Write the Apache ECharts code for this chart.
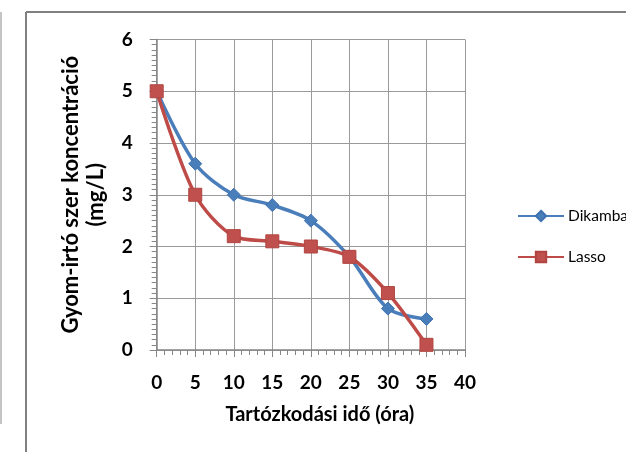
<!DOCTYPE html>
<html>
<head>
<meta charset="utf-8">
<script src="https://cdn.jsdelivr.net/npm/echarts@6/dist/echarts.min.js"></script>
<style>html,body{margin:0;padding:0;background:#fff}#c{width:626px;height:452px}</style>
</head>
<body>
<div id="c"></div>
<script>
var xValues = [0, 5, 10, 15, 20, 25, 30, 35];
var dikamba = [5.0, 3.6, 3.0, 2.8, 2.5, 1.8, 0.8, 0.6];
var lasso = [5.0, 3.0, 2.2, 2.1, 2.0, 1.8, 1.1, 0.1];
var seriesNames = ['Dikamba', 'Lasso'];
var xTitle = 'Tartózkodási idő (óra)';
var yTitle = 'Gyom-irtó szer koncentráció\n(mg/L)';

function pairs(xs, ys) { return xs.map(function (x, i) { return [x, ys[i]]; }); }

var FONT = 'Lato';
var chart = echarts.init(document.getElementById('c'), null, {renderer: 'canvas'});
chart.setOption({
  animation: false,
  backgroundColor: '#fff',
  grid: {left: 156.7, right: 161, top: 39.5, bottom: 102, containLabel: false},
  graphic: [
    {type: 'line', shape: {x1: 26, y1: 12, x2: 26, y2: 452}, style: {stroke: '#808080', lineWidth: 2}},
    {type: 'line', shape: {x1: 26, y1: 12, x2: 626, y2: 12}, style: {stroke: '#808080', lineWidth: 2}},
    {type: 'line', shape: {x1: 1, y1: 12, x2: 1, y2: 424}, style: {stroke: '#b0b0b0', lineWidth: 1.5}}
  ],
  legend: {
    orient: 'vertical', left: 512, top: 203,
    itemWidth: 46, itemHeight: 13, itemGap: 25,
    textStyle: {fontFamily: FONT, fontSize: 15.5, color: '#000', padding: [0, 0, 0, -1]},
    data: seriesNames
  },
  xAxis: {
    type: 'value', min: 0, max: 40, interval: 5,
    name: xTitle, nameLocation: 'middle', nameGap: 55,
    nameTextStyle: {fontFamily: FONT, fontSize: 20, fontWeight: 'bold', color: '#000', padding: [0, 0, 0, 18]},
    axisLine: {show: true, lineStyle: {color: '#868686', width: 1.5}},
    axisTick: {show: true, length: 7, lineStyle: {color: '#868686'}},
    minorTick: {show: true, splitNumber: 5, length: 5, lineStyle: {color: '#868686'}},
    axisLabel: {fontFamily: FONT, fontSize: 19, fontWeight: 'bold', color: '#000', margin: 23},
    splitLine: {show: true, lineStyle: {color: '#9a9a9a', width: 1}}
  },
  yAxis: {
    type: 'value', min: 0, max: 6, interval: 1,
    name: yTitle, nameLocation: 'middle', nameGap: 48, nameRotate: 90,
    nameTextStyle: {fontFamily: FONT, fontSize: 22, fontWeight: 'bold', color: '#000', lineHeight: 25, align: 'center'},
    axisLine: {show: true, lineStyle: {color: '#868686', width: 1.5}},
    axisTick: {show: true, length: 7, lineStyle: {color: '#868686'}},
    minorTick: {show: true, splitNumber: 10, length: 5, lineStyle: {color: '#868686'}},
    axisLabel: {fontFamily: FONT, fontSize: 19, fontWeight: 'bold', color: '#000', margin: 24},
    splitLine: {show: true, lineStyle: {color: '#9a9a9a', width: 1}}
  },
  series: [
    {
      name: seriesNames[0], type: 'line', data: pairs(xValues, dikamba),
      smooth: 0.3, clip: false,
      symbol: 'diamond', symbolSize: 13,
      lineStyle: {color: '#4A7EBB', width: 3.5},
      itemStyle: {color: '#4A7EBB', borderColor: '#3F72B0', borderWidth: 1}
    },
    {
      name: seriesNames[1], type: 'line', data: pairs(xValues, lasso),
      smooth: 0.3, clip: false,
      symbol: 'rect', symbolSize: 13,
      lineStyle: {color: '#BE4B48', width: 3.5},
      itemStyle: {color: '#C0504D', borderColor: '#B04440', borderWidth: 1}
    }
  ]
});
</script>
</body>
</html>
